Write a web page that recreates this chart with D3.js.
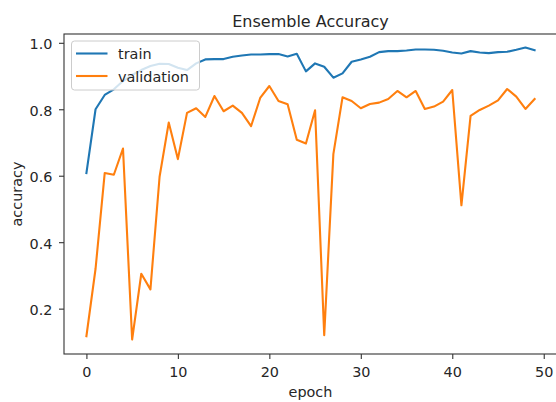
<!DOCTYPE html>
<html>
<head>
<meta charset="utf-8">
<script src="https://cdn.jsdelivr.net/npm/d3@7"></script>
<style>
  html, body { margin: 0; padding: 0; background: #fff; }
  svg { display: block; }
  text { font-family: "DejaVu Sans", sans-serif; fill: #262626; }
</style>
</head>
<body>
<svg id="chart" width="556" height="402"></svg>
<script>
// ---- data ----
const epochs = d3.range(0, 50);
const train = [0.608, 0.800, 0.843, 0.860, 0.885, 0.903, 0.918, 0.930, 0.937, 0.936,
               0.925, 0.918, 0.938, 0.950, 0.951, 0.951, 0.958, 0.962, 0.965, 0.965,
               0.966, 0.966, 0.959, 0.967, 0.914, 0.938, 0.928, 0.895, 0.908, 0.943,
               0.950, 0.958, 0.972, 0.975, 0.975, 0.977, 0.980, 0.980, 0.979, 0.976,
               0.971, 0.968, 0.975, 0.971, 0.969, 0.972, 0.973, 0.979, 0.986, 0.978];
const validation = [0.117, 0.320, 0.608, 0.603, 0.682, 0.107, 0.305, 0.258, 0.597, 0.760,
                    0.650, 0.789, 0.803, 0.777, 0.840, 0.794, 0.811, 0.789, 0.749, 0.834,
                    0.870, 0.825, 0.815, 0.708, 0.697, 0.797, 0.120, 0.665, 0.836, 0.825,
                    0.803, 0.816, 0.820, 0.831, 0.855, 0.836, 0.855, 0.801, 0.808, 0.823,
                    0.858, 0.511, 0.780, 0.798, 0.811, 0.827, 0.861, 0.838, 0.801, 0.831];
const seriesNames = ["train", "validation"];
const seriesColors = ["#1f77b4", "#ff7f0e"];
const xTicks = [0, 10, 20, 30, 40, 50];
const yTicks = [0.2, 0.4, 0.6, 0.8, 1.0];
const titleText = "Ensemble Accuracy";
const xLabel = "epoch";
const yLabel = "accuracy";

// ---- layout ----
const svg = d3.select("#chart");
const pL = 64, pR = 557, pT = 34, pB = 354;
const fs = 14.4;

const x = d3.scaleLinear().domain([-2.45, 51.45]).range([pL, pR]);
const y = d3.scaleLinear().domain([0.0635, 1.0265]).range([pB, pT]);

const series = [train, validation];

// lines
const line = d3.line().x((d, i) => x(epochs[i])).y(d => y(d));
series.forEach((s, k) => {
  svg.append("path")
    .datum(s)
    .attr("d", line)
    .attr("fill", "none")
    .attr("stroke", seriesColors[k])
    .attr("stroke-width", 2.1)
    .attr("stroke-linejoin", "round")
    .attr("stroke-linecap", "square");
});

// axes
const tickLen = 5;
const xAxis = d3.axisBottom(x).tickValues(xTicks).tickFormat(d3.format("d"))
  .tickSizeInner(tickLen).tickSizeOuter(0).tickPadding(8);
const yAxis = d3.axisLeft(y).tickValues(yTicks).tickFormat(d3.format(".1f"))
  .tickSizeInner(tickLen).tickSizeOuter(0).tickPadding(6.5);

const gx = svg.append("g").attr("transform", `translate(0,${pB})`).call(xAxis);
const gy = svg.append("g").attr("transform", `translate(${pL},0)`).call(yAxis);
[gx, gy].forEach(g => {
  g.select(".domain").remove();
  g.selectAll(".tick line").attr("stroke", "#333").attr("stroke-width", 1.1);
  g.selectAll(".tick text").attr("font-size", fs).attr("fill", "#262626")
    .attr("font-family", "DejaVu Sans, sans-serif");
});
gy.selectAll(".tick text").attr("dy", "0.42em");

// spines
svg.append("rect")
  .attr("x", pL).attr("y", pT)
  .attr("width", pR - pL).attr("height", pB - pT)
  .attr("fill", "none").attr("stroke", "#333").attr("stroke-width", 1.1);

// title and labels
svg.append("text").attr("x", (pL + pR) / 2).attr("y", 27)
  .attr("text-anchor", "middle").attr("font-size", 16).text(titleText);
svg.append("text").attr("x", (pL + pR) / 2).attr("y", 397)
  .attr("text-anchor", "middle").attr("font-size", fs).text(xLabel);
svg.append("text").attr("transform", `translate(22,${(pT + pB) / 2}) rotate(-90)`)
  .attr("text-anchor", "middle").attr("font-size", fs).text(yLabel);

// legend
const lg = svg.append("g");
lg.append("rect")
  .attr("x", 71.5).attr("y", 41).attr("width", 128).attr("height", 49)
  .attr("rx", 3).attr("ry", 3)
  .attr("fill", "#fff").attr("fill-opacity", 0.8)
  .attr("stroke", "#cccccc").attr("stroke-width", 1);
seriesNames.forEach((name, k) => {
  const yy = 53.5 + k * 22.5;
  lg.append("line").attr("x1", 76).attr("x2", 107.5).attr("y1", yy).attr("y2", yy)
    .attr("stroke", seriesColors[k]).attr("stroke-width", 2.1);
  lg.append("text").attr("x", 118).attr("y", yy + 5.5)
    .attr("font-size", fs).text(name);
});
</script>
</body>
</html>
